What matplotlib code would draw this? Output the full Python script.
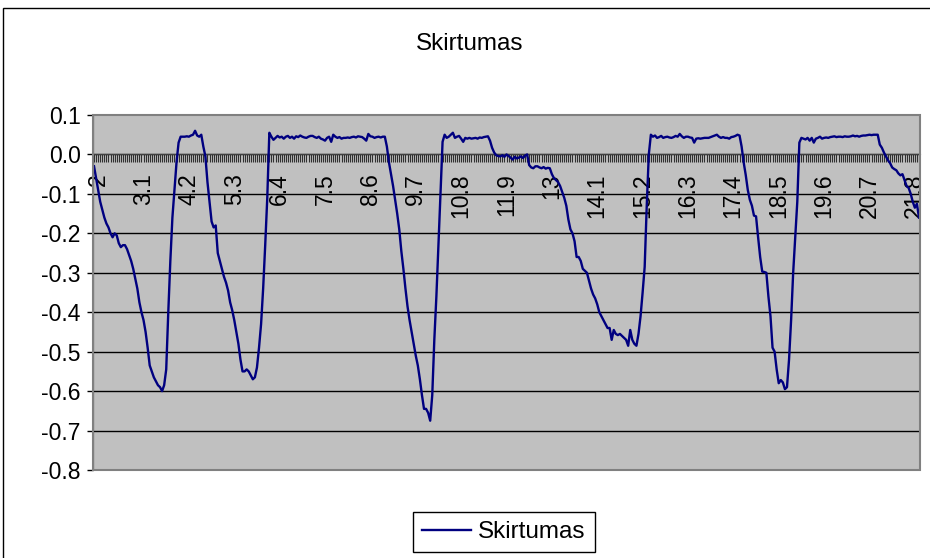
import numpy as np
import matplotlib
matplotlib.use("Agg")
import matplotlib.pyplot as plt
import matplotlib.transforms as mtransforms
from matplotlib.patches import Rectangle
from matplotlib.lines import Line2D

plt.rcParams["font.family"] = ["Liberation Sans", "DejaVu Sans"]

# Category axis: 2.00 ... 22.00 in steps of 0.05
x_start = 2.0
x_step = 0.05
label_every = 22

# Skirtumas series, one value per category
skirtumas = [
    -0.03, -0.06, -0.09, -0.12, -0.14, -0.16, -0.175, -0.185, -0.20, -0.21,
    -0.20, -0.205, -0.225, -0.235, -0.23, -0.23, -0.24, -0.255, -0.27, -0.29,
    -0.315, -0.34, -0.375, -0.40, -0.42, -0.45, -0.49, -0.535, -0.55, -0.565,
    -0.575, -0.585, -0.59, -0.60, -0.585, -0.545, -0.40, -0.27, -0.16, -0.09,
    -0.02, 0.03, 0.045, 0.045, 0.045, 0.046, 0.045, 0.048, 0.05, 0.06,
    0.048, 0.045, 0.05, 0.02, -0.005, -0.07, -0.12, -0.17, -0.185, -0.18,
    -0.25, -0.27, -0.29, -0.31, -0.325, -0.345, -0.375, -0.395, -0.42, -0.45,
    -0.48, -0.52, -0.55, -0.55, -0.545, -0.55, -0.56, -0.57, -0.565, -0.54,
    -0.49, -0.43, -0.34, -0.23, -0.11, 0.055, 0.045, 0.037, 0.042, 0.047,
    0.043, 0.045, 0.04, 0.045, 0.047, 0.042, 0.045, 0.04, 0.046, 0.044,
    0.048, 0.045, 0.043, 0.042, 0.045, 0.047, 0.047, 0.044, 0.042, 0.045,
    0.04, 0.038, 0.035, 0.042, 0.045, 0.032, 0.05, 0.045, 0.042, 0.044,
    0.04, 0.042, 0.042, 0.043, 0.042, 0.044, 0.045, 0.043, 0.046, 0.045,
    0.044, 0.04, 0.035, 0.052, 0.046, 0.045, 0.042, 0.044, 0.045, 0.043,
    0.045, 0.045, 0.02, -0.02, -0.05, -0.08, -0.115, -0.15, -0.19, -0.245,
    -0.29, -0.34, -0.385, -0.42, -0.45, -0.48, -0.51, -0.535, -0.57, -0.61,
    -0.645, -0.645, -0.655, -0.675, -0.61, -0.47, -0.36, -0.23, -0.10, 0.032,
    0.05, 0.042, 0.045, 0.05, 0.055, 0.042, 0.045, 0.047, 0.04, 0.032,
    0.042, 0.04, 0.042, 0.04, 0.041, 0.042, 0.04, 0.043, 0.042, 0.044,
    0.045, 0.046, 0.035, 0.017, 0.005, -0.002, -0.004, -0.005, -0.002, -0.006,
    0.0, -0.004, -0.008, -0.013, -0.006, -0.01, -0.008, -0.005, -0.009, -0.003,
    0.0, -0.027, -0.033, -0.035, -0.03, -0.03, -0.033, -0.035, -0.032, -0.036,
    -0.034, -0.035, -0.05, -0.06, -0.065, -0.07, -0.08, -0.095, -0.11, -0.13,
    -0.165, -0.19, -0.2, -0.22, -0.26, -0.26, -0.27, -0.29, -0.295, -0.30,
    -0.32, -0.34, -0.355, -0.365, -0.38, -0.40, -0.41, -0.42, -0.43, -0.44,
    -0.44, -0.47, -0.445, -0.455, -0.458, -0.455, -0.46, -0.465, -0.47, -0.485,
    -0.445, -0.47, -0.48, -0.485, -0.455, -0.41, -0.35, -0.285, -0.13, 0.0,
    0.05, 0.045, 0.048, 0.042, 0.044, 0.047, 0.042, 0.044, 0.045, 0.043,
    0.042, 0.044, 0.047, 0.045, 0.052, 0.046, 0.042, 0.045, 0.045, 0.043,
    0.042, 0.03, 0.04, 0.041, 0.04, 0.041, 0.042, 0.042, 0.042, 0.044,
    0.046, 0.048, 0.05, 0.045, 0.042, 0.044, 0.042, 0.042, 0.04, 0.044,
    0.045, 0.047, 0.05, 0.048, 0.02, -0.02, -0.052, -0.09, -0.115, -0.13,
    -0.155, -0.157, -0.21, -0.26, -0.297, -0.298, -0.30, -0.36, -0.41, -0.49,
    -0.50, -0.545, -0.58, -0.572, -0.578, -0.595, -0.59, -0.52, -0.42, -0.30,
    -0.21, -0.12, 0.03, 0.042, 0.04, 0.038, 0.042, 0.035, 0.042, 0.03,
    0.04, 0.042, 0.045, 0.04, 0.042, 0.043, 0.042, 0.044, 0.045, 0.046,
    0.044, 0.045, 0.045, 0.044, 0.046, 0.045, 0.045, 0.046, 0.048, 0.046,
    0.047, 0.045, 0.047, 0.048, 0.048, 0.049, 0.05, 0.049, 0.05, 0.05,
    0.05, 0.025, 0.017, 0.005, -0.005, -0.015, -0.022, -0.033, -0.037, -0.04,
    -0.048, -0.053, -0.05, -0.065, -0.08, -0.085, -0.1, -0.12, -0.135, -0.125,
    -0.16,
]

y_ticks = [-0.8, -0.7, -0.6, -0.5, -0.4, -0.3, -0.2, -0.1, 0.0, 0.1]
y_tick_labels = ["-0.8", "-0.7", "-0.6", "-0.5", "-0.4", "-0.3", "-0.2", "-0.1", "0.0", "0.1"]

n = len(skirtumas)
positions = np.arange(n)
categories = np.round(x_start + x_step * positions, 2)

W, H = 930, 558
fig = plt.figure(figsize=(W / 100, H / 100), dpi=100)
fig.patch.set_facecolor("white")

# chart border (left/top visible)
fig.add_artist(Rectangle((3 / W, -0.2), 1.2, 1 - 8 / H + 0.2, transform=fig.transFigure,
                         fill=False, edgecolor="black", lw=1.0))

left, right, top, bottom = 93, 920, 115, 470
ax = fig.add_axes([left / W, 1 - bottom / H, (right - left) / W, (bottom - top) / H])
ax.set_facecolor("#C0C0C0")

for y in y_ticks[:-1]:
    ax.axhline(y, color="black", lw=1.0, zorder=1)

ax.plot(positions, skirtumas, color="#000080", lw=1.7, zorder=4, label="Skirtumas")

ax.set_xlim(-0.5, n - 0.5)
ax.set_ylim(-0.8, 0.1)

ax.set_yticks(y_ticks)
ax.set_yticklabels(y_tick_labels)
ax.tick_params(axis="y", direction="out", length=4, width=1, color="black",
               labelsize=16.5, pad=5)

# one tick mark per category on the axis crossing at zero
ax.set_xticks(positions)
ax.set_xticklabels([])
ax.tick_params(axis="x", direction="out", length=5.5, width=0.8, color="#303030")

# rotated category labels hanging below the zero line
label_tf = (mtransforms.blended_transform_factory(ax.transData, ax.transData)
            + mtransforms.ScaledTranslation(4 / 100, -13.5 / 72, fig.dpi_scale_trans))
for i in range(0, n, label_every):
    ax.text(positions[i], 0, f"{categories[i]:g}", rotation=90, ha="center", va="top",
            fontsize=16.5, transform=label_tf, zorder=3)

ax.spines["bottom"].set_position(("data", 0))
ax.spines["bottom"].set_color("#404040")
for s in ("top", "right"):
    ax.spines[s].set_visible(False)
ax.spines["left"].set_color("black")
ax.add_patch(Rectangle((0, 0), 1, 1, transform=ax.transAxes, fill=False,
                       edgecolor="#808080", lw=1.5, clip_on=False, zorder=5))

fig.text(470 / W, 1 - 44 / H, "Skirtumas", ha="center", va="center", fontsize=17.5)

leg = fig.legend(handles=[Line2D([], [], color="#000080", lw=1.7)], labels=["Skirtumas"],
                 loc="upper left", bbox_to_anchor=(413 / W, 1 - 512 / H), fontsize=17.5,
                 frameon=True, fancybox=False, edgecolor="black", framealpha=1,
                 handlelength=2.0, handletextpad=0.3, borderpad=0.38, borderaxespad=0)
leg.get_frame().set_linewidth(1.0)

fig.savefig("out.png", dpi=100, facecolor="white")
